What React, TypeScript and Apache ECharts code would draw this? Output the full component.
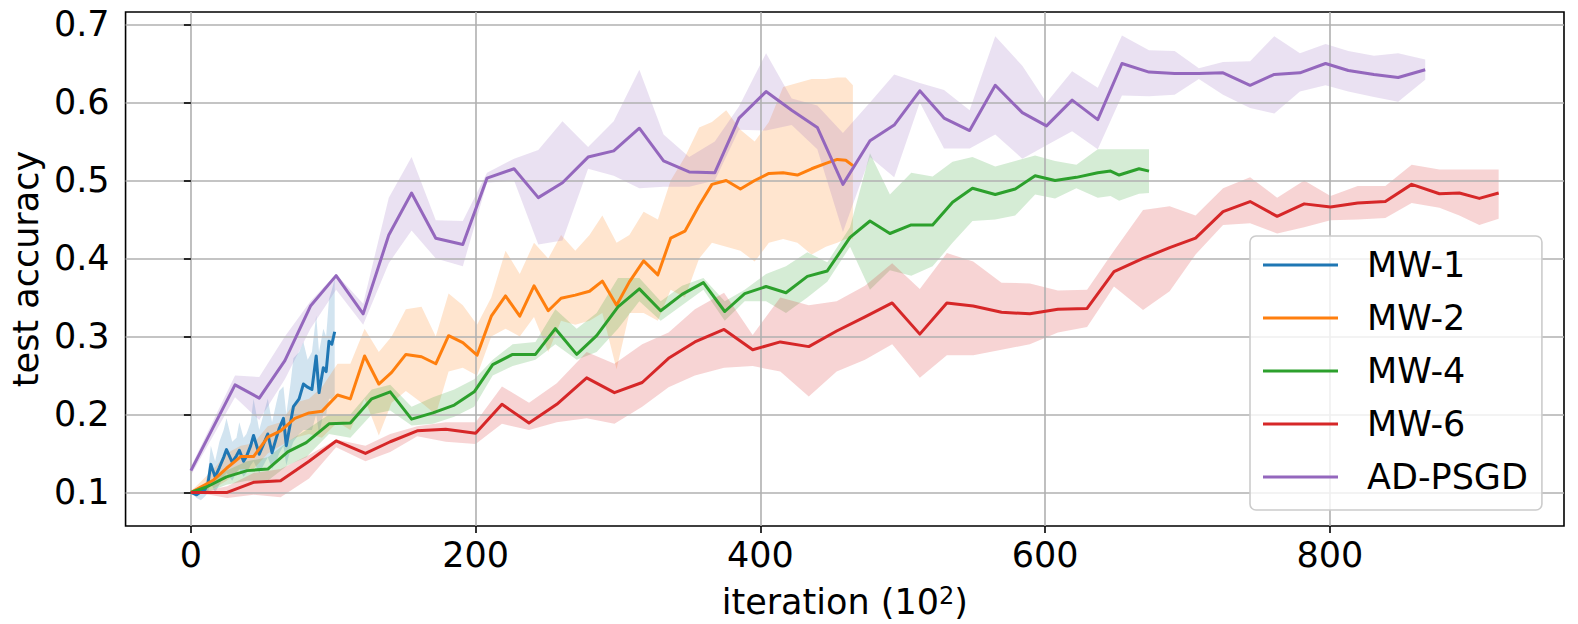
import React, { useEffect, useRef } from "react";
import * as echarts from "echarts";

const FONT = "DejaVu Sans";

const seriesNames = ["MW-1", "MW-2", "MW-4", "MW-6", "AD-PSGD"];
const seriesColors = ["#1f77b4", "#ff7f0e", "#2ca02c", "#d62728", "#9467bd"];

const xTicks = [0, 200, 400, 600, 800];
const yTicks = [0.1, 0.2, 0.3, 0.4, 0.5, 0.6, 0.7];

// MW-1
const mw1X = [0, 4, 7, 10, 12, 14, 17, 20, 23, 25, 29, 32, 34, 37, 39, 42, 44, 48, 51, 54, 57, 60, 62, 65, 67, 70, 72, 76, 79, 82, 85, 88, 90, 93, 95, 97, 99, 101];
const mw1Y = [0.100, 0.097, 0.101, 0.104, 0.112, 0.136, 0.120, 0.132, 0.145, 0.155, 0.139, 0.147, 0.154, 0.140, 0.146, 0.160, 0.173, 0.149, 0.162, 0.175, 0.151, 0.170, 0.182, 0.195, 0.160, 0.190, 0.210, 0.220, 0.239, 0.235, 0.232, 0.275, 0.228, 0.260, 0.255, 0.294, 0.290, 0.306];
const mw1Hi = [0.100, 0.102, 0.105, 0.110, 0.125, 0.160, 0.140, 0.165, 0.180, 0.195, 0.165, 0.170, 0.190, 0.170, 0.175, 0.190, 0.220, 0.180, 0.200, 0.220, 0.190, 0.215, 0.230, 0.236, 0.200, 0.240, 0.272, 0.280, 0.293, 0.270, 0.280, 0.327, 0.280, 0.310, 0.300, 0.348, 0.360, 0.374];
const mw1Lo = [0.100, 0.093, 0.090, 0.095, 0.100, 0.112, 0.100, 0.110, 0.120, 0.125, 0.115, 0.125, 0.130, 0.120, 0.125, 0.135, 0.140, 0.125, 0.135, 0.145, 0.130, 0.140, 0.150, 0.160, 0.135, 0.155, 0.165, 0.175, 0.180, 0.180, 0.180, 0.200, 0.175, 0.200, 0.200, 0.220, 0.220, 0.225];

// MW-2
const mw2X = [0, 6, 16, 25, 35, 44, 54, 63, 73, 83, 92, 103, 112, 122, 132, 141, 151, 162, 172, 181, 191, 201, 211, 221, 231, 241, 251, 260, 270, 280, 289, 299, 308, 318, 328, 337, 347, 357, 366, 376, 386, 396, 406, 416, 426, 436, 446, 454, 460, 465];
const mw2Y = [0.100, 0.106, 0.116, 0.131, 0.146, 0.146, 0.171, 0.179, 0.195, 0.202, 0.204, 0.225, 0.220, 0.275, 0.239, 0.254, 0.277, 0.274, 0.265, 0.301, 0.292, 0.276, 0.326, 0.352, 0.326, 0.365, 0.333, 0.349, 0.353, 0.358, 0.371, 0.340, 0.370, 0.397, 0.379, 0.426, 0.435, 0.468, 0.495, 0.500, 0.489, 0.500, 0.509, 0.510, 0.507, 0.515, 0.522, 0.527, 0.526, 0.519];
const mw2Hi = [0.102, 0.112, 0.130, 0.150, 0.160, 0.163, 0.185, 0.190, 0.215, 0.220, 0.235, 0.265, 0.265, 0.310, 0.280, 0.300, 0.335, 0.338, 0.300, 0.355, 0.340, 0.315, 0.350, 0.410, 0.380, 0.420, 0.400, 0.430, 0.410, 0.430, 0.455, 0.420, 0.430, 0.460, 0.450, 0.500, 0.530, 0.568, 0.575, 0.590, 0.565, 0.550, 0.575, 0.620, 0.625, 0.630, 0.630, 0.632, 0.632, 0.622];
const mw2Lo = [0.098, 0.098, 0.105, 0.115, 0.130, 0.130, 0.150, 0.160, 0.170, 0.175, 0.170, 0.190, 0.180, 0.220, 0.173, 0.215, 0.230, 0.215, 0.200, 0.255, 0.260, 0.250, 0.300, 0.310, 0.300, 0.325, 0.280, 0.320, 0.315, 0.320, 0.330, 0.258, 0.330, 0.330, 0.320, 0.360, 0.350, 0.400, 0.420, 0.415, 0.410, 0.396, 0.420, 0.425, 0.420, 0.405, 0.415, 0.420, 0.425, 0.425];

// MW-4
const mw4X = [0, 11, 25, 39.5, 54, 68, 81, 97, 112, 127, 140, 155, 170, 185, 199, 212, 226, 242, 256, 271, 285, 300, 315, 330, 345, 360, 375, 389, 404, 418, 433, 447, 463, 477, 491, 506, 521, 535, 549, 565, 579, 593, 607, 622, 637, 646, 652, 666, 673];
const mw4Y = [0.100, 0.107, 0.120, 0.128, 0.130, 0.152, 0.164, 0.188, 0.189, 0.220, 0.229, 0.194, 0.202, 0.212, 0.229, 0.264, 0.277, 0.277, 0.310, 0.277, 0.301, 0.338, 0.361, 0.333, 0.354, 0.369, 0.332, 0.355, 0.364, 0.356, 0.377, 0.384, 0.427, 0.448, 0.432, 0.443, 0.443, 0.472, 0.490, 0.482, 0.489, 0.506, 0.500, 0.504, 0.510, 0.512, 0.507, 0.515, 0.512];
const mw4Hi = [0.102, 0.112, 0.128, 0.140, 0.145, 0.165, 0.180, 0.200, 0.200, 0.232, 0.238, 0.210, 0.222, 0.232, 0.245, 0.270, 0.290, 0.293, 0.335, 0.310, 0.330, 0.375, 0.375, 0.345, 0.365, 0.375, 0.345, 0.360, 0.380, 0.390, 0.408, 0.395, 0.440, 0.535, 0.482, 0.510, 0.505, 0.524, 0.530, 0.518, 0.525, 0.532, 0.525, 0.520, 0.540, 0.540, 0.540, 0.540, 0.540];
const mw4Lo = [0.098, 0.100, 0.110, 0.115, 0.115, 0.135, 0.145, 0.175, 0.170, 0.200, 0.205, 0.186, 0.188, 0.197, 0.210, 0.250, 0.262, 0.270, 0.290, 0.270, 0.280, 0.310, 0.345, 0.320, 0.340, 0.360, 0.320, 0.345, 0.345, 0.330, 0.350, 0.370, 0.415, 0.360, 0.385, 0.378, 0.390, 0.420, 0.448, 0.450, 0.455, 0.482, 0.477, 0.490, 0.478, 0.480, 0.474, 0.483, 0.484];

// MW-6
const mw6X = [0, 13, 25.5, 44, 63, 83, 102, 122.6, 140, 159, 179, 200, 218.5, 237.5, 257, 278, 297.5, 317, 335.5, 354, 374.5, 394.6, 414, 434, 453.6, 473.5, 492.6, 512, 531, 549.5, 569.4, 589.3, 609, 629.5, 648.4, 668.8, 687.5, 705.7, 725, 744, 763, 782, 800.5, 819.6, 839, 857.5, 877, 891, 905, 918.6];
const mw6Y = [0.100, 0.100, 0.100, 0.113, 0.115, 0.140, 0.166, 0.150, 0.165, 0.179, 0.181, 0.176, 0.213, 0.189, 0.213, 0.247, 0.228, 0.241, 0.272, 0.293, 0.309, 0.283, 0.293, 0.287, 0.307, 0.325, 0.343, 0.303, 0.343, 0.339, 0.331, 0.329, 0.335, 0.336, 0.383, 0.400, 0.414, 0.426, 0.460, 0.473, 0.454, 0.470, 0.466, 0.471, 0.473, 0.495, 0.483, 0.484, 0.477, 0.484];
const mw6Hi = [0.100, 0.103, 0.108, 0.125, 0.130, 0.148, 0.168, 0.160, 0.175, 0.185, 0.190, 0.190, 0.236, 0.215, 0.240, 0.280, 0.265, 0.290, 0.305, 0.335, 0.356, 0.302, 0.350, 0.340, 0.345, 0.365, 0.394, 0.361, 0.407, 0.396, 0.369, 0.368, 0.359, 0.360, 0.410, 0.462, 0.467, 0.455, 0.490, 0.504, 0.478, 0.500, 0.480, 0.493, 0.493, 0.520, 0.514, 0.514, 0.514, 0.514];
const mw6Lo = [0.100, 0.097, 0.093, 0.097, 0.094, 0.118, 0.158, 0.140, 0.152, 0.172, 0.165, 0.162, 0.188, 0.180, 0.190, 0.195, 0.188, 0.210, 0.235, 0.250, 0.260, 0.262, 0.255, 0.223, 0.255, 0.270, 0.290, 0.247, 0.276, 0.276, 0.283, 0.290, 0.305, 0.312, 0.364, 0.334, 0.358, 0.405, 0.443, 0.445, 0.432, 0.440, 0.449, 0.450, 0.452, 0.471, 0.465, 0.455, 0.443, 0.451];

// AD-PSGD
const adX = [0, 31, 48, 66, 84, 102, 121, 139, 155, 172, 191, 208, 227, 244, 261, 279, 297, 315, 332, 350, 368, 385, 404, 422, 440, 458, 477, 494, 512, 529, 547, 565, 584, 601, 619, 637, 654, 673, 691, 708, 725, 744, 761, 779, 797, 813, 831, 848, 867];
const adY = [0.128, 0.238, 0.221, 0.269, 0.339, 0.378, 0.329, 0.430, 0.484, 0.426, 0.418, 0.503, 0.515, 0.478, 0.497, 0.530, 0.538, 0.567, 0.525, 0.511, 0.510, 0.580, 0.614, 0.590, 0.568, 0.495, 0.551, 0.571, 0.615, 0.580, 0.564, 0.622, 0.587, 0.570, 0.603, 0.578, 0.650, 0.639, 0.637, 0.637, 0.638, 0.622, 0.636, 0.638, 0.650, 0.641, 0.636, 0.632, 0.642];
const adHi = [0.133, 0.250, 0.248, 0.300, 0.345, 0.380, 0.342, 0.478, 0.530, 0.449, 0.448, 0.510, 0.528, 0.539, 0.576, 0.543, 0.576, 0.642, 0.559, 0.530, 0.550, 0.595, 0.663, 0.605, 0.596, 0.561, 0.600, 0.636, 0.625, 0.616, 0.590, 0.685, 0.647, 0.600, 0.640, 0.619, 0.686, 0.667, 0.666, 0.644, 0.652, 0.653, 0.685, 0.663, 0.675, 0.666, 0.660, 0.663, 0.655];
const adLo = [0.122, 0.222, 0.193, 0.245, 0.310, 0.360, 0.315, 0.394, 0.436, 0.400, 0.390, 0.497, 0.500, 0.418, 0.423, 0.515, 0.506, 0.490, 0.492, 0.492, 0.500, 0.565, 0.564, 0.571, 0.540, 0.434, 0.530, 0.504, 0.600, 0.541, 0.541, 0.559, 0.528, 0.545, 0.563, 0.540, 0.609, 0.608, 0.610, 0.630, 0.610, 0.593, 0.586, 0.614, 0.622, 0.614, 0.607, 0.601, 0.629];

const allX = [mw1X, mw2X, mw4X, mw6X, adX];
const allY = [mw1Y, mw2Y, mw4Y, mw6Y, adY];
const allHi = [mw1Hi, mw2Hi, mw4Hi, mw6Hi, adHi];
const allLo = [mw1Lo, mw2Lo, mw4Lo, mw6Lo, adLo];

function buildSeries() {
  const bands: any[] = [];
  const lines: any[] = [];
  seriesNames.forEach((name, k) => {
    const xs = allX[k];
    const hi = allHi[k];
    const lo = allLo[k];
    const color = seriesColors[k];
    bands.push({
      type: "custom",
      name: name + " band",
      data: xs.map((x, i) => [x, lo[i], hi[i]]),
      encode: { x: 0, y: [1, 2] },
      silent: true,
      clip: true,
      z: -1,
      renderItem: (params: any, api: any) => {
        if (params.dataIndex !== 0) return null;
        const pts: number[][] = [];
        for (let i = 0; i < xs.length; i++) pts.push(api.coord([xs[i], hi[i]]));
        for (let i = xs.length - 1; i >= 0; i--) pts.push(api.coord([xs[i], lo[i]]));
        return {
          type: "polygon",
          shape: { points: pts },
          style: { fill: color, opacity: 0.2, stroke: null },
        };
      },
    });
    lines.push({
      type: "line",
      name,
      data: xs.map((x, i) => [x, allY[k][i]]),
      symbol: "none",
      showSymbol: false,
      itemStyle: { color },
      lineStyle: { color, width: 3, join: "round", cap: "butt" },
      z: 3,
    });
  });
  return [...bands, ...lines];
}

export default function App() {
  const ref = useRef<HTMLDivElement>(null);
  useEffect(() => {
    if (!ref.current) return;
    const chart = echarts.init(ref.current, null, { renderer: "svg" });
    chart.setOption({
      animation: false,
      backgroundColor: "#ffffff",
      grid: {
        left: 125,
        right: 14,
        top: 12,
        bottom: 95,
        show: true,
        borderColor: "#000000",
        borderWidth: 1.6,
        backgroundColor: "transparent",
      },
      xAxis: {
        type: "value",
        min: -45.9,
        max: 964.5,
        name: "{a|iteration (10}{s|2}{a|)}",
        nameLocation: "middle",
        nameGap: 58,
        nameTextStyle: {
          fontSize: 35,
          color: "#000",
          fontFamily: FONT,
          rich: {
            a: { fontSize: 35, color: "#000", fontFamily: FONT, verticalAlign: "bottom" },
            s: { fontSize: 24, color: "#000", fontFamily: FONT, verticalAlign: "bottom", padding: [0, 0, 11, 0] },
          },
        },
        axisLine: { show: false },
        axisTick: {
          show: true,
          length: 7,
          customValues: xTicks,
          lineStyle: { color: "#000", width: 1.6 },
        },
        axisLabel: {
          customValues: xTicks,
          fontSize: 35,
          color: "#000",
          fontFamily: FONT,
          margin: 11,
        },
        splitLine: { show: true, lineStyle: { color: "#b0b0b0", width: 1.6 } },
      },
      yAxis: {
        type: "value",
        min: 0.057,
        max: 0.716,
        name: "test accuracy",
        nameLocation: "middle",
        nameRotate: 90,
        nameGap: 77,
        nameTextStyle: { fontSize: 35, color: "#000", fontFamily: FONT },
        axisLine: { show: false },
        axisTick: {
          show: true,
          length: 7,
          customValues: yTicks,
          lineStyle: { color: "#000", width: 1.6 },
        },
        axisLabel: {
          customValues: yTicks,
          formatter: (v: number) => v.toFixed(1),
          fontSize: 35,
          color: "#000",
          fontFamily: FONT,
          margin: 16,
        },
        splitLine: { show: true, lineStyle: { color: "#b0b0b0", width: 1.6 } },
      },
      legend: {
        data: seriesNames,
        orient: "vertical",
        left: 1250,
        top: 236,
        icon: "rect",
        itemWidth: 75,
        itemHeight: 3,
        itemGap: 13,
        padding: [9, 14, 13, 13],
        backgroundColor: "rgba(255,255,255,0.8)",
        borderColor: "#cccccc",
        borderWidth: 1.6,
        borderRadius: 6,
        selectedMode: false,
        textStyle: {
          fontSize: 35,
          color: "#000",
          fontFamily: FONT,
          lineHeight: 40,
          padding: [0, 0, 0, 24],
        },
      },
      series: buildSeries(),
    });
    return () => chart.dispose();
  }, []);
  return (
    <div
      ref={ref}
      style={{ position: "fixed", left: 0, top: 0, width: 1578, height: 624, background: "#fff" }}
    />
  );
}
